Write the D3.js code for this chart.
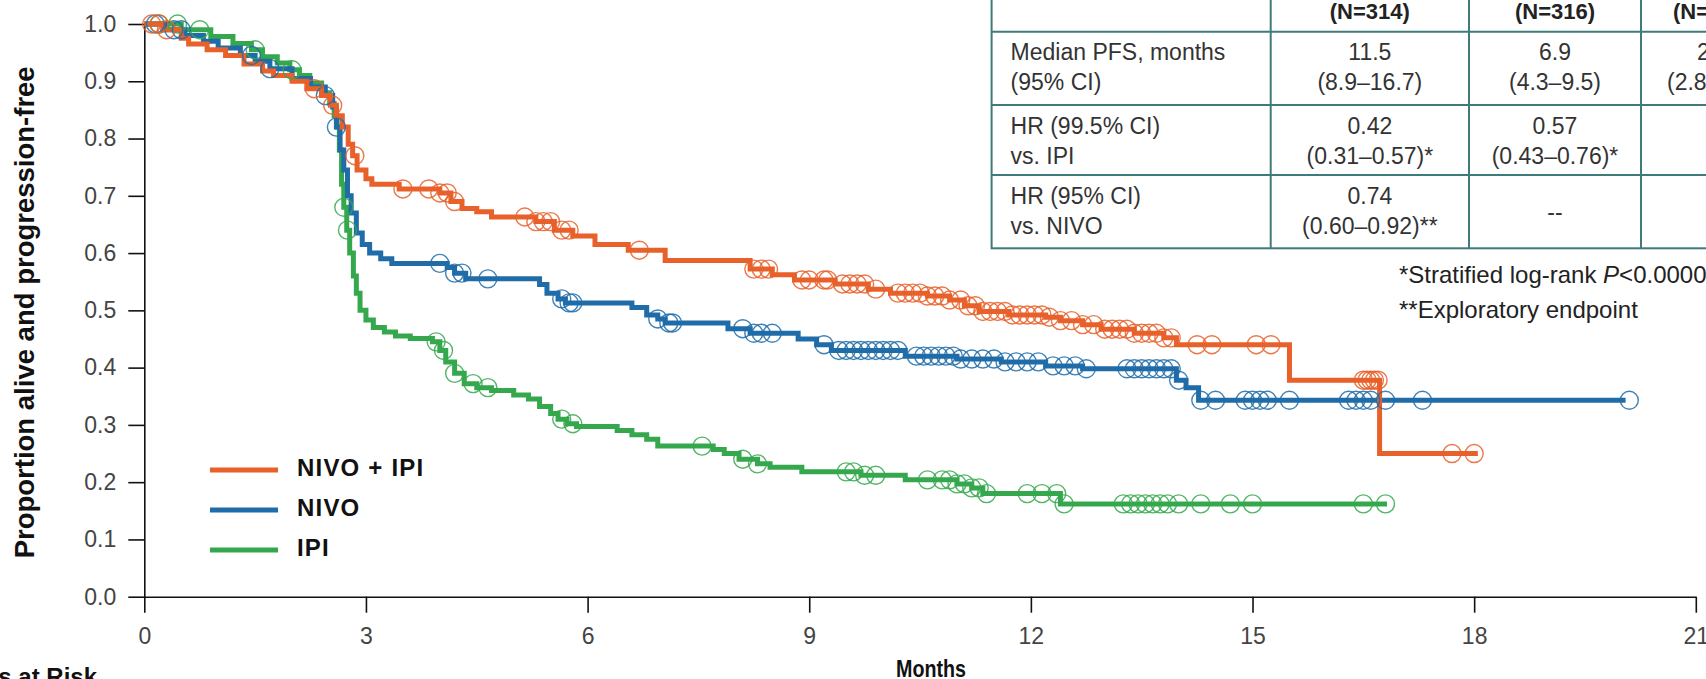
<!DOCTYPE html>
<html>
<head>
<meta charset="utf-8">
<script src="https://cdn.jsdelivr.net/npm/d3@7"></script>
<style>
  body { margin: 0; background: #fff; overflow: hidden; }
  svg { display: block; font-family: "Liberation Sans", Arial, sans-serif; }
</style>
</head>
<body>
<div id="chart"></div>
<script>
// ---- data ----
const monthTicks = [0, 3, 6, 9, 12, 15, 18, 21];
const propTicks = [0, 0.1, 0.2, 0.3, 0.4, 0.5, 0.6, 0.7, 0.8, 0.9, 1.0];
const seriesNames = ["NIVO + IPI", "NIVO", "IPI"];
const seriesColors = ["#e8602a", "#1f6ca8", "#35a84e"];

// NIVO + IPI: step times (months) and proportion from that time on
const comboTimes = [0, 0.25, 0.5, 0.6, 0.85, 1.1, 1.35, 1.6, 1.75, 2.0, 2.2, 2.4, 2.52, 2.6, 2.68, 2.76, 2.82, 2.88, 3.0, 3.08, 3.45, 4.0, 4.15, 4.3, 4.5, 4.7, 5.3, 5.55, 5.8, 6.1, 6.55, 7.05, 8.2, 8.5, 8.8, 9.35, 9.8, 10.1, 10.6, 10.9, 11.1, 11.3, 11.7, 12.2, 12.4, 12.7, 12.95, 13.4, 13.8, 13.97, 15.5, 16.72];
const comboSurv = [1.0, 0.99, 0.975, 0.965, 0.955, 0.945, 0.93, 0.918, 0.91, 0.9, 0.887, 0.875, 0.858, 0.84, 0.82, 0.79, 0.77, 0.745, 0.73, 0.72, 0.712, 0.705, 0.69, 0.678, 0.672, 0.663, 0.655, 0.64, 0.63, 0.615, 0.605, 0.587, 0.572, 0.562, 0.553, 0.546, 0.537, 0.53, 0.525, 0.518, 0.508, 0.498, 0.492, 0.488, 0.482, 0.475, 0.467, 0.46, 0.452, 0.44, 0.378, 0.25];
const comboEnd = 18.05;
const comboCensor = [0.1, 0.2, 0.3, 2.3, 2.55, 2.85, 3.5, 3.85, 4.0, 4.1, 4.2, 5.15, 5.3, 5.4, 5.5, 5.65, 5.75, 6.7, 8.25, 8.35, 8.45, 8.9, 9.0, 9.2, 9.25, 9.45, 9.55, 9.65, 9.75, 9.9, 10.2, 10.3, 10.4, 10.5, 10.6, 10.7, 10.8, 10.9, 11.05, 11.15, 11.25, 11.35, 11.45, 11.55, 11.65, 11.75, 11.85, 11.95, 12.05, 12.15, 12.25, 12.4, 12.55, 12.7, 12.85, 13.0, 13.1, 13.2, 13.3, 13.4, 13.5, 13.6, 13.7, 13.8, 13.9, 14.25, 14.45, 15.05, 15.25, 16.5, 16.55, 16.6, 16.65, 16.7, 17.7, 18.0];

// NIVO
const nivoTimes = [0, 0.3, 0.55, 0.8, 1.0, 1.3, 1.5, 1.7, 2.0, 2.25, 2.45, 2.55, 2.6, 2.65, 2.7, 2.75, 2.8, 2.87, 2.95, 3.05, 3.2, 3.35, 4.1, 4.2, 4.35, 5.35, 5.45, 5.6, 5.7, 6.6, 6.8, 6.95, 7.05, 7.9, 8.2, 8.85, 9.1, 9.3, 10.3, 11.0, 11.6, 12.2, 12.7, 13.97, 14.1, 14.27];
const nivoSurv = [1.0, 0.99, 0.98, 0.97, 0.958, 0.945, 0.935, 0.922, 0.905, 0.89, 0.875, 0.855, 0.82, 0.78, 0.745, 0.7, 0.67, 0.635, 0.615, 0.6, 0.59, 0.582, 0.575, 0.565, 0.555, 0.545, 0.53, 0.52, 0.513, 0.505, 0.492, 0.485, 0.478, 0.468, 0.46, 0.45, 0.44, 0.43, 0.42, 0.415, 0.41, 0.403, 0.398, 0.378, 0.365, 0.343];
const nivoEnd = 20.05;
const nivoCensor = [0.15, 0.4, 0.5, 1.45, 1.7, 2.45, 2.6, 4.0, 4.2, 4.3, 4.65, 5.65, 5.75, 5.8, 6.95, 7.1, 7.15, 8.1, 8.25, 8.35, 8.5, 9.2, 9.4, 9.5, 9.6, 9.7, 9.8, 9.9, 10.0, 10.1, 10.2, 10.45, 10.55, 10.65, 10.75, 10.85, 10.95, 11.05, 11.2, 11.35, 11.5, 11.65, 11.8, 11.95, 12.1, 12.3, 12.45, 12.6, 12.75, 13.3, 13.4, 13.5, 13.6, 13.7, 13.8, 13.9, 14.0, 14.3, 14.5, 14.9, 15.0, 15.1, 15.2, 15.5, 16.3, 16.4, 16.5, 16.6, 16.8, 17.3, 20.1];

// IPI
const ipiTimes = [0, 0.5, 0.9, 1.2, 1.45, 1.6, 1.8, 1.97, 2.1, 2.24, 2.4, 2.51, 2.57, 2.61, 2.64, 2.67, 2.7, 2.74, 2.78, 2.83, 2.87, 2.92, 3.0, 3.1, 3.25, 3.4, 3.6, 3.9, 4.0, 4.08, 4.2, 4.33, 4.5, 4.7, 5.0, 5.2, 5.35, 5.5, 5.6, 5.72, 5.85, 6.4, 6.6, 6.8, 6.95, 7.7, 7.85, 8.05, 8.3, 8.47, 8.9, 9.7, 10.3, 11.0, 11.2, 11.35, 12.4];
const ipiSurv = [1.0, 0.99, 0.978, 0.966, 0.955, 0.943, 0.932, 0.92, 0.91, 0.897, 0.88, 0.861, 0.84, 0.82, 0.78, 0.72, 0.68, 0.64, 0.6, 0.56, 0.53, 0.5, 0.483, 0.47, 0.462, 0.455, 0.451, 0.445, 0.43, 0.41, 0.39, 0.372, 0.365, 0.36, 0.352, 0.345, 0.332, 0.32, 0.31, 0.302, 0.297, 0.29, 0.283, 0.275, 0.263, 0.257, 0.25, 0.24, 0.232, 0.226, 0.218, 0.212, 0.204, 0.197, 0.19, 0.18, 0.162];
const ipiEnd = 16.82;
const ipiCensor = [0.2, 0.45, 0.75, 1.5, 2.0, 2.7, 2.75, 3.95, 4.05, 4.2, 4.45, 4.65, 5.65, 5.8, 7.55, 8.1, 8.3, 9.5, 9.6, 9.75, 9.9, 10.6, 10.8, 10.9, 11.0, 11.1, 11.2, 11.3, 11.4, 11.95, 12.15, 12.35, 12.45, 13.25, 13.35, 13.45, 13.55, 13.65, 13.75, 13.85, 14.0, 14.3, 14.7, 15.0, 16.5, 16.8];

// summary table
const tableHeader = ["", "(N=314)", "(N=316)", "(N=315)"];
const tableRows = [
  [["Median PFS, months", "(95% CI)"], ["11.5", "(8.9\u201316.7)"], ["6.9", "(4.3\u20139.5)"], ["2.9", "(2.8\u20133.4)"]],
  [["HR (99.5% CI)", "vs. IPI"], ["0.42", "(0.31\u20130.57)*"], ["0.57", "(0.43\u20130.76)*"], ["--"]],
  [["HR (95% CI)", "vs. NIVO"], ["0.74", "(0.60\u20130.92)**"], ["--"], ["--"]]
];

// ---- drawing ----
const width = 1706, height = 679;
const svg = d3.select("#chart").append("svg")
  .attr("width", width)
  .attr("height", height);

const x = d3.scaleLinear().domain([0, 21]).range([144.3, 1695.8]);
const y = d3.scaleLinear().domain([0, 1]).range([596.7, 24]);

// axes
const yAxis = svg.append("g")
  .attr("transform", `translate(${x(0)},0)`)
  .call(d3.axisLeft(y).tickValues(propTicks).tickFormat(d3.format(".1f"))
    .tickSize(16).tickSizeOuter(0).tickPadding(12));
const xAxis = svg.append("g")
  .attr("transform", `translate(0,${y(0)})`)
  .call(d3.axisBottom(x).tickValues(monthTicks).tickFormat(d3.format("d"))
    .tickSize(16).tickSizeOuter(0).tickPadding(15));

[yAxis, xAxis].forEach(ax => {
  ax.selectAll("path, line").attr("stroke", "#111").attr("stroke-width", 1.6);
  ax.selectAll("text")
    .style("font-size", "23px")
    .style("font-family", "'Liberation Sans', Arial, sans-serif")
    .attr("fill", "#444");
});

svg.append("text")
  .attr("transform", `translate(34,${y(0.5) + 2}) rotate(-90)`)
  .attr("text-anchor", "middle")
  .style("font-size", "27.5px")
  .style("font-weight", "bold")
  .attr("fill", "#111")
  .text("Proportion alive and progression-free");

svg.append("text")
  .attr("x", 931)
  .attr("y", 677)
  .attr("text-anchor", "middle")
  .attr("textLength", 70)
  .attr("lengthAdjust", "spacingAndGlyphs")
  .style("font-size", "24px")
  .style("font-weight", "bold")
  .attr("fill", "#111")
  .text("Months");

svg.append("text")
  .attr("x", 97)
  .attr("y", 685)
  .attr("text-anchor", "end")
  .style("font-size", "24px")
  .style("font-weight", "bold")
  .attr("fill", "#111")
  .text("Patients at Risk");

// curves
const series = [
  { times: ipiTimes, surv: ipiSurv, end: ipiEnd, censor: ipiCensor, color: seriesColors[2] },
  { times: nivoTimes, surv: nivoSurv, end: nivoEnd, censor: nivoCensor, color: seriesColors[1] },
  { times: comboTimes, surv: comboSurv, end: comboEnd, censor: comboCensor, color: seriesColors[0] }
];

const line = d3.line()
  .x(d => x(d[0]))
  .y(d => y(d[1]))
  .curve(d3.curveStepAfter);

function survAt(s, t) {
  const i = Math.max(0, d3.bisectRight(s.times, t) - 1);
  return s.surv[i];
}

series.forEach(s => {
  const pts = s.times.map((t, i) => [t, s.surv[i]]);
  pts.push([s.end, s.surv[s.surv.length - 1]]);
  svg.append("path")
    .datum(pts)
    .attr("d", line)
    .attr("fill", "none")
    .attr("stroke", s.color)
    .attr("stroke-width", 5);
});

series.forEach(s => {
  svg.append("g")
    .selectAll("circle")
    .data(s.censor)
    .join("circle")
    .attr("cx", d => x(d))
    .attr("cy", d => y(survAt(s, d)))
    .attr("r", 9)
    .attr("fill", "none")
    .attr("stroke", s.color)
    .attr("stroke-opacity", 0.85)
    .attr("stroke-width", 1.4);
});

// legend
const legend = svg.append("g");
seriesNames.forEach((name, i) => {
  const ly = 470 + i * 40;
  legend.append("line")
    .attr("x1", 210).attr("x2", 278)
    .attr("y1", ly).attr("y2", ly)
    .attr("stroke", seriesColors[i])
    .attr("stroke-width", 5);
  legend.append("text")
    .attr("x", 297)
    .attr("y", ly + 6)
    .style("font-size", "24px")
    .style("font-weight", "bold")
    .style("letter-spacing", "1.2px")
    .attr("fill", "#111")
    .text(name);
});

// table
const colX = [991.6, 1270.7, 1469, 1641, 1785];
const rowY = [-40, 31.7, 105, 175, 248.3];
const tableColor = "#3f7b7b";
const table = svg.append("g");

table.append("rect")
  .attr("x", colX[0]).attr("y", rowY[0])
  .attr("width", colX[4] - colX[0]).attr("height", rowY[4] - rowY[0])
  .attr("fill", "#fff")
  .attr("stroke", tableColor)
  .attr("stroke-width", 2);
colX.slice(1, 4).forEach(cx => {
  table.append("line")
    .attr("x1", cx).attr("x2", cx).attr("y1", rowY[0]).attr("y2", rowY[4])
    .attr("stroke", tableColor).attr("stroke-width", 2);
});
rowY.slice(1, 4).forEach(ry => {
  table.append("line")
    .attr("x1", colX[0]).attr("x2", colX[4]).attr("y1", ry).attr("y2", ry)
    .attr("stroke", tableColor).attr("stroke-width", 2);
});

tableHeader.forEach((h, c) => {
  table.append("text")
    .attr("x", (colX[c] + colX[c + 1]) / 2)
    .attr("y", 19)
    .attr("text-anchor", "middle")
    .style("font-size", "22px")
    .style("font-weight", "bold")
    .attr("fill", "#222")
    .text(h);
});

tableRows.forEach((row, r) => {
  const top = rowY[r + 1], bottom = rowY[r + 2];
  row.forEach((cell, c) => {
    const cxp = c === 0 ? colX[0] + 19 : (colX[c] + colX[c + 1]) / 2;
    const lines = cell.length === 2 ? [top + 28.5, top + 58.5] : [(top + bottom) / 2 + 8];
    cell.forEach((t, k) => {
      table.append("text")
        .attr("x", cxp)
        .attr("y", lines[k])
        .attr("text-anchor", c === 0 ? "start" : "middle")
        .style("font-size", "23px")
        .attr("fill", "#333")
        .text(t);
    });
  });
});

const foot1 = svg.append("text")
  .attr("x", 1399).attr("y", 283)
  .style("font-size", "24px")
  .attr("fill", "#222");
foot1.append("tspan").text("*Stratified log-rank ");
foot1.append("tspan").style("font-style", "italic").text("P");
foot1.append("tspan").text("<0.00001");

svg.append("text")
  .attr("x", 1399).attr("y", 318)
  .style("font-size", "24px")
  .attr("fill", "#222")
  .text("**Exploratory endpoint");
</script>
</body>
</html>
